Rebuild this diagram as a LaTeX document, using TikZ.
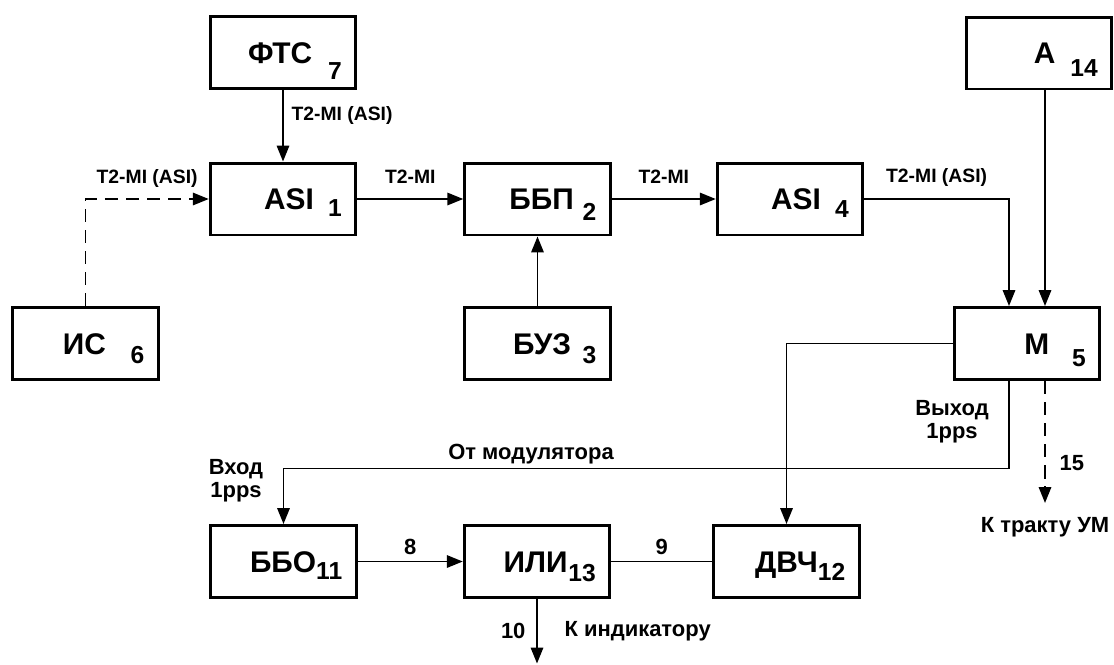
\documentclass[tikz,border=0pt]{standalone}
\usepackage{fontspec}
\setmainfont{Liberation Sans}
\usetikzlibrary{arrows.meta,calc,positioning}

% block name with its number set low on the right
\newcommand{\blkname}[4]{#1\hspace{#3}\raisebox{-#4}[0pt][0pt]{\fontsize{14pt}{14pt}\selectfont #2}}

\begin{document}
\begin{tikzpicture}[
    x=0.02cm, y=-0.02cm,
    >={Triangle[length=9pt,width=7pt]},
    line width=1.1pt,
    every node/.style={font=\bfseries},
    blk/.style={draw, line width=1.7pt, minimum height=1.44cm, inner xsep=8pt,
      text width=66.8pt, align=right, text height=12.2pt, text depth=0pt,
      font=\fontsize{17pt}{17pt}\selectfont\bfseries},
    sig/.style={font=\fontsize{11pt}{11pt}\selectfont\bfseries},
    note/.style={font=\fontsize{12.5pt}{13pt}\selectfont\bfseries, align=center},
    aux/.style={dash pattern=on 7.5pt off 4.5pt},
  ]

  \useasboundingbox (0,0) rectangle (1114,664);

  % ---- blocks --------------------------------------------------------
  \node[blk] (fts7)   at (283,52.5)    {\blkname{ФТС}{7}{9pt}{9pt}};
  \node[blk] (asi1)   at (283,199)     {\blkname{ASI}{1}{8pt}{4pt}\hspace*{4pt}};
  \node[blk] (is6)    at (85.5,343.5)  {\blkname{ИС}{6}{14pt}{5.5pt}};
  \node[blk] (bbp2)   at (537.5,199)   {\blkname{ББП}{2}{5pt}{6pt}};
  \node[blk] (buz3)   at (537.5,343.5) {\blkname{БУЗ}{3}{6.5pt}{5.5pt}};
  \node[blk] (asi4)   at (790,199)     {\blkname{ASI}{4}{8pt}{4.5pt}};
  \node[blk] (a14)    at (1039,53)     {\blkname{А}{14}{8.5pt}{7pt}};
  \node[blk] (m5)     at (1027,343.5)  {\blkname{М}{5}{13pt}{7pt}\hspace*{4pt}};
  \node[blk] (bbo11)  at (283.5,561.5) {\blkname{ББО}{11}{0pt}{4pt}};
  \node[blk] (ili13)  at (537,561.5)   {\blkname{ИЛИ}{13}{0.5pt}{5.5pt}};
  \node[blk] (dvch12) at (786.5,561.5) {\blkname{ДВЧ}{12}{0pt}{4.5pt}};

  % ---- transport stream path -----------------------------------------
  \draw[->] (fts7) -- node[sig, pos=0.35, right=1pt] (tfts) {T2-MI (ASI)} (asi1);
  \draw[->, aux] (is6) -- (is6 |- asi1)
    -- node[sig, above=2.5pt] (tis) {T2-MI (ASI)} (asi1);
  \draw[->] (asi1) -- node[sig, above=4.8pt] (tasi1) {T2-MI} (bbp2);
  \draw[->] (buz3) -- (bbp2);
  \draw[->] (bbp2) -- node[sig, above=4.8pt] (tbbp) {T2-MI} (asi4);

  % ---- modulator inputs ----------------------------------------------
  \coordinate (min1) at ($(m5.north)+(-18,0)$);
  \coordinate (min2) at ($(m5.north)+(18,0)$);
  \draw[->] (asi4) -- node[sig, above=3.5pt] (tasi4) {T2-MI (ASI)} (asi4 -| min1) -- (min1);
  \draw[->] (a14.south -| min2) -- (min2);

  % ---- modulator outputs ---------------------------------------------
  \coordinate (mout)  at ($(m5.south)+(-18,0)$);
  \coordinate (mdash) at ($(m5.south)+(18,0)$);
  \coordinate (ppsbend) at ($(bbo11.north)+(0,-55.5)$);
  \draw[->] (mout) |- (ppsbend) -- (bbo11);
  \draw[->] (m5) -| (dvch12);
  \draw[->, aux] (mdash) -- ++(0,122) coordinate (um)
    node[note, pos=0.67, right=4.5pt] (n15) {15};
  \node[note, below=4.4pt] (tum) at (um) {К тракту УМ};

  \node[note] (tout) at (952,422) {Выход\\1pps};
  \node[note] (tmod) at (531,454) {От модулятора};
  \node[note] (tin)  at (236,481) {Вход\\1pps};

  % ---- indication ----------------------------------------------------
  \draw[->] (bbo11) -- node[note, above=0pt] (n8) {8} (ili13);
  \draw (ili13) -- node[note, above=0pt] (n9) {9} (dvch12);
  \draw[->] (ili13.south) -- ++(0,64.5)
    node[note, midway, left=2.7pt] (n10) {10}
    node[note, midway, right=11.8pt] (tind) {К индикатору};

\end{tikzpicture}
\end{document}
